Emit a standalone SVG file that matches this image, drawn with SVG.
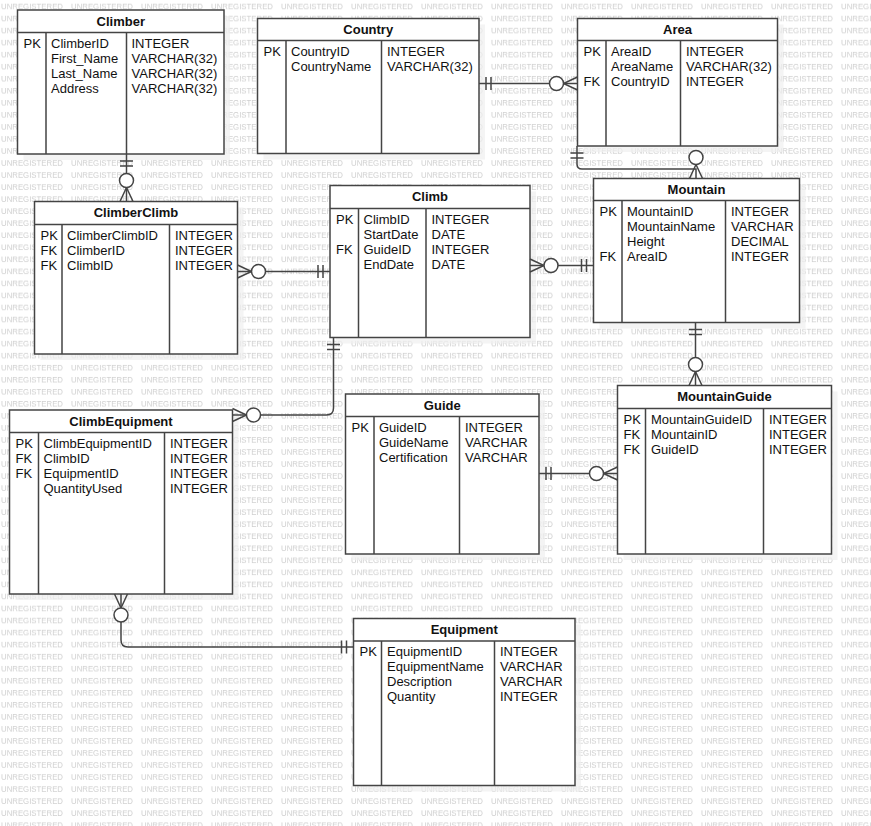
<svg xmlns="http://www.w3.org/2000/svg" width="871" height="826" viewBox="0 0 871 826">
<style>
.bg{fill:#fff}
.wm{font-family:"Liberation Sans",Arial,sans-serif;font-size:7.8px;fill:#cfcfcf}
.shadow{fill:#f0f0f0;opacity:0.7}
.box{fill:#fff;stroke:#444;stroke-width:1.5}
.div{stroke:#444;stroke-width:1.5;fill:none}
.title{font-family:"Liberation Sans",Arial,sans-serif;font-size:13px;font-weight:bold;text-anchor:middle;fill:#111}
.row{font-family:"Liberation Sans",Arial,sans-serif;font-size:13px;fill:#111}
.conn{fill:none;stroke:#444;stroke-width:1.5}
.mk{fill:none;stroke:#444;stroke-width:1.5}
.mkc{fill:#fff;stroke:#444;stroke-width:1.5}
</style>
<defs>
<pattern id="wmPat" patternUnits="userSpaceOnUse" x="1" y="0" width="70" height="12.04">
<text class="wm" x="0" y="9.5" textLength="62" lengthAdjust="spacingAndGlyphs">UNREGISTERED</text>
</pattern>
<marker id="oneStart" markerUnits="userSpaceOnUse" viewBox="-20 -20 40 40" refX="0" refY="0" markerWidth="40" markerHeight="40" orient="auto" overflow="visible">
<path class="mk" d="M7,-6.5 V6.5 M12,-6.5 V6.5"/>
</marker>
<marker id="manyEnd" markerUnits="userSpaceOnUse" viewBox="-40 -20 60 40" refX="0" refY="0" markerWidth="60" markerHeight="40" orient="auto" overflow="visible">
<path class="mk" d="M0,-6.5 L-14,0 L0,6.5"/>
<circle class="mkc" cx="-21" cy="0" r="7"/>
</marker>
</defs>
<rect class="bg" x="0" y="0" width="871" height="826"/>
<rect x="0" y="0" width="871" height="826" fill="url(#wmPat)"/>

<g id="shadows">
<rect class="shadow" x="23.5" y="16" width="206.5" height="144"/>
<rect class="shadow" x="263.5" y="24.5" width="221.5" height="135"/>
<rect class="shadow" x="583.5" y="24.5" width="200" height="127.5"/>
<rect class="shadow" x="40.5" y="207.5" width="203" height="152.5"/>
<rect class="shadow" x="336" y="191.5" width="200" height="152"/>
<rect class="shadow" x="599.5" y="184.5" width="206" height="144"/>
<rect class="shadow" x="15.5" y="416" width="223" height="184"/>
<rect class="shadow" x="351.5" y="400" width="193.5" height="160"/>
<rect class="shadow" x="623.5" y="391.5" width="214" height="168.5"/>
<rect class="shadow" x="359.5" y="624.5" width="221.5" height="167"/>
</g>

<g id="Climber">
<rect class="box" x="17.5" y="10" width="206.5" height="144"/>
<path class="div" d="M17.5,32.5 H224 M46,32.5 V154 M126.5,32.5 V154"/>
<text class="title" x="120.75" y="25.5">Climber</text>
<text class="row" x="23.5" y="47.5">PK</text>
<text class="row"><tspan x="51" y="47.5">ClimberID</tspan><tspan x="51" y="62.5">First_Name</tspan><tspan x="51" y="77.5">Last_Name</tspan><tspan x="51" y="92.5">Address</tspan></text>
<text class="row"><tspan x="131.5" y="47.5">INTEGER</tspan><tspan x="131.5" y="62.5">VARCHAR(32)</tspan><tspan x="131.5" y="77.5">VARCHAR(32)</tspan><tspan x="131.5" y="92.5">VARCHAR(32)</tspan></text>
</g>

<g id="Country">
<rect class="box" x="257.5" y="18.5" width="221.5" height="135"/>
<path class="div" d="M257.5,40.5 H479 M286,40.5 V153.5 M381.5,40.5 V153.5"/>
<text class="title" x="368.25" y="34">Country</text>
<text class="row" x="263.5" y="55.5">PK</text>
<text class="row"><tspan x="291" y="55.5">CountryID</tspan><tspan x="291" y="70.5">CountryName</tspan></text>
<text class="row"><tspan x="387" y="55.5">INTEGER</tspan><tspan x="387" y="70.5">VARCHAR(32)</tspan></text>
</g>

<g id="Area">
<rect class="box" x="577.5" y="18.5" width="200" height="127.5"/>
<path class="div" d="M577.5,40.5 H777.5 M606,40.5 V146 M680.5,40.5 V146"/>
<text class="title" x="677.5" y="34">Area</text>
<text class="row"><tspan x="583.5" y="55.5">PK</tspan><tspan x="583.5" y="85.5">FK</tspan></text>
<text class="row"><tspan x="611" y="55.5">AreaID</tspan><tspan x="611" y="70.5">AreaName</tspan><tspan x="611" y="85.5">CountryID</tspan></text>
<text class="row"><tspan x="686" y="55.5">INTEGER</tspan><tspan x="686" y="70.5">VARCHAR(32)</tspan><tspan x="686" y="85.5">INTEGER</tspan></text>
</g>

<g id="ClimberClimb">
<rect class="box" x="34.5" y="201.5" width="203" height="152.5"/>
<path class="div" d="M34.5,224.5 H237.5 M62,224.5 V354 M169.5,224.5 V354"/>
<text class="title" x="136" y="217">ClimberClimb</text>
<text class="row"><tspan x="40.5" y="239.5">PK</tspan><tspan x="40.5" y="254.5">FK</tspan><tspan x="40.5" y="269.5">FK</tspan></text>
<text class="row"><tspan x="67" y="239.5">ClimberClimbID</tspan><tspan x="67" y="254.5">ClimberID</tspan><tspan x="67" y="269.5">ClimbID</tspan></text>
<text class="row"><tspan x="175" y="239.5">INTEGER</tspan><tspan x="175" y="254.5">INTEGER</tspan><tspan x="175" y="269.5">INTEGER</tspan></text>
</g>

<g id="Climb">
<rect class="box" x="330" y="185.5" width="200" height="152"/>
<path class="div" d="M330,208.5 H530 M358.5,208.5 V337.5 M426,208.5 V337.5"/>
<text class="title" x="430" y="201">Climb</text>
<text class="row"><tspan x="336" y="223.5">PK</tspan><tspan x="336" y="253.5">FK</tspan></text>
<text class="row"><tspan x="363.5" y="223.5">ClimbID</tspan><tspan x="363.5" y="238.5">StartDate</tspan><tspan x="363.5" y="253.5">GuideID</tspan><tspan x="363.5" y="268.5">EndDate</tspan></text>
<text class="row"><tspan x="431.5" y="223.5">INTEGER</tspan><tspan x="431.5" y="238.5">DATE</tspan><tspan x="431.5" y="253.5">INTEGER</tspan><tspan x="431.5" y="268.5">DATE</tspan></text>
</g>

<g id="Mountain">
<rect class="box" x="593.5" y="178.5" width="206" height="144"/>
<path class="div" d="M593.5,200.5 H799.5 M622,200.5 V322.5 M725.5,200.5 V322.5"/>
<text class="title" x="696.5" y="194">Mountain</text>
<text class="row"><tspan x="599.5" y="215.5">PK</tspan><tspan x="599.5" y="260.5">FK</tspan></text>
<text class="row"><tspan x="627" y="215.5">MountainID</tspan><tspan x="627" y="230.5">MountainName</tspan><tspan x="627" y="245.5">Height</tspan><tspan x="627" y="260.5">AreaID</tspan></text>
<text class="row"><tspan x="731" y="215.5">INTEGER</tspan><tspan x="731" y="230.5">VARCHAR</tspan><tspan x="731" y="245.5">DECIMAL</tspan><tspan x="731" y="260.5">INTEGER</tspan></text>
</g>

<g id="ClimbEquipment">
<rect class="box" x="9.5" y="410" width="223" height="184"/>
<path class="div" d="M9.5,432.5 H232.5 M38.5,432.5 V594 M164.5,432.5 V594"/>
<text class="title" x="121" y="425.5">ClimbEquipment</text>
<text class="row"><tspan x="15.5" y="447.5">PK</tspan><tspan x="15.5" y="462.5">FK</tspan><tspan x="15.5" y="477.5">FK</tspan></text>
<text class="row"><tspan x="43.5" y="447.5">ClimbEquipmentID</tspan><tspan x="43.5" y="462.5">ClimbID</tspan><tspan x="43.5" y="477.5">EquipmentID</tspan><tspan x="43.5" y="492.5">QuantityUsed</tspan></text>
<text class="row"><tspan x="170" y="447.5">INTEGER</tspan><tspan x="170" y="462.5">INTEGER</tspan><tspan x="170" y="477.5">INTEGER</tspan><tspan x="170" y="492.5">INTEGER</tspan></text>
</g>

<g id="Guide">
<rect class="box" x="345.5" y="394" width="193.5" height="160"/>
<path class="div" d="M345.5,416.5 H539 M374,416.5 V554 M459.5,416.5 V554"/>
<text class="title" x="442.25" y="409.5">Guide</text>
<text class="row" x="351.5" y="431.5">PK</text>
<text class="row"><tspan x="379" y="431.5">GuideID</tspan><tspan x="379" y="446.5">GuideName</tspan><tspan x="379" y="461.5">Certification</tspan></text>
<text class="row"><tspan x="465" y="431.5">INTEGER</tspan><tspan x="465" y="446.5">VARCHAR</tspan><tspan x="465" y="461.5">VARCHAR</tspan></text>
</g>

<g id="MountainGuide">
<rect class="box" x="617.5" y="385.5" width="214" height="168.5"/>
<path class="div" d="M617.5,408.5 H831.5 M645.5,408.5 V554 M763.5,408.5 V554"/>
<text class="title" x="724.5" y="401">MountainGuide</text>
<text class="row"><tspan x="623.5" y="423.5">PK</tspan><tspan x="623.5" y="438.5">FK</tspan><tspan x="623.5" y="453.5">FK</tspan></text>
<text class="row"><tspan x="651" y="423.5">MountainGuideID</tspan><tspan x="651" y="438.5">MountainID</tspan><tspan x="651" y="453.5">GuideID</tspan></text>
<text class="row"><tspan x="769" y="423.5">INTEGER</tspan><tspan x="769" y="438.5">INTEGER</tspan><tspan x="769" y="453.5">INTEGER</tspan></text>
</g>

<g id="Equipment">
<rect class="box" x="353.5" y="618.5" width="221.5" height="167"/>
<path class="div" d="M353.5,641 H575 M381.5,641 V785.5 M494.5,641 V785.5"/>
<text class="title" x="464.25" y="634">Equipment</text>
<text class="row" x="359.5" y="656">PK</text>
<text class="row"><tspan x="387" y="656">EquipmentID</tspan><tspan x="387" y="671">EquipmentName</tspan><tspan x="387" y="686">Description</tspan><tspan x="387" y="701">Quantity</tspan></text>
<text class="row"><tspan x="500" y="656">INTEGER</tspan><tspan x="500" y="671">VARCHAR</tspan><tspan x="500" y="686">VARCHAR</tspan><tspan x="500" y="701">INTEGER</tspan></text>
</g>

<g id="connectors">
<path id="e-climber-climberclimb" class="conn" marker-start="url(#oneStart)" marker-end="url(#manyEnd)" d="M126.5,154 V201.5"/>
<path id="e-country-area" class="conn" marker-start="url(#oneStart)" marker-end="url(#manyEnd)" d="M479,83.5 H577.5"/>
<path id="e-area-mountain" class="conn" marker-start="url(#oneStart)" marker-end="url(#manyEnd)" d="M577,146 V164 Q577,169 582,169 H696 V178.5"/>
<path id="e-climb-climberclimb" class="conn" marker-start="url(#oneStart)" marker-end="url(#manyEnd)" d="M330,271.5 H237.5"/>
<path id="e-mountain-climb" class="conn" marker-start="url(#oneStart)" marker-end="url(#manyEnd)" d="M593.5,265.5 H530"/>
<path id="e-mountain-mountainguide" class="conn" marker-start="url(#oneStart)" marker-end="url(#manyEnd)" d="M695.5,322.5 V385.5"/>
<path id="e-guide-mountainguide" class="conn" marker-start="url(#oneStart)" marker-end="url(#manyEnd)" d="M539,473.5 H617.5"/>
<path id="e-climb-climbequipment" class="conn" marker-start="url(#oneStart)" marker-end="url(#manyEnd)" d="M333.5,337.5 V408 Q333.5,415 326.5,415 H232.5"/>
<path id="e-equipment-climbequipment" class="conn" marker-start="url(#oneStart)" marker-end="url(#manyEnd)" d="M353.5,647 H128 Q121,647 121,640 V594"/>
</g>
</svg>
